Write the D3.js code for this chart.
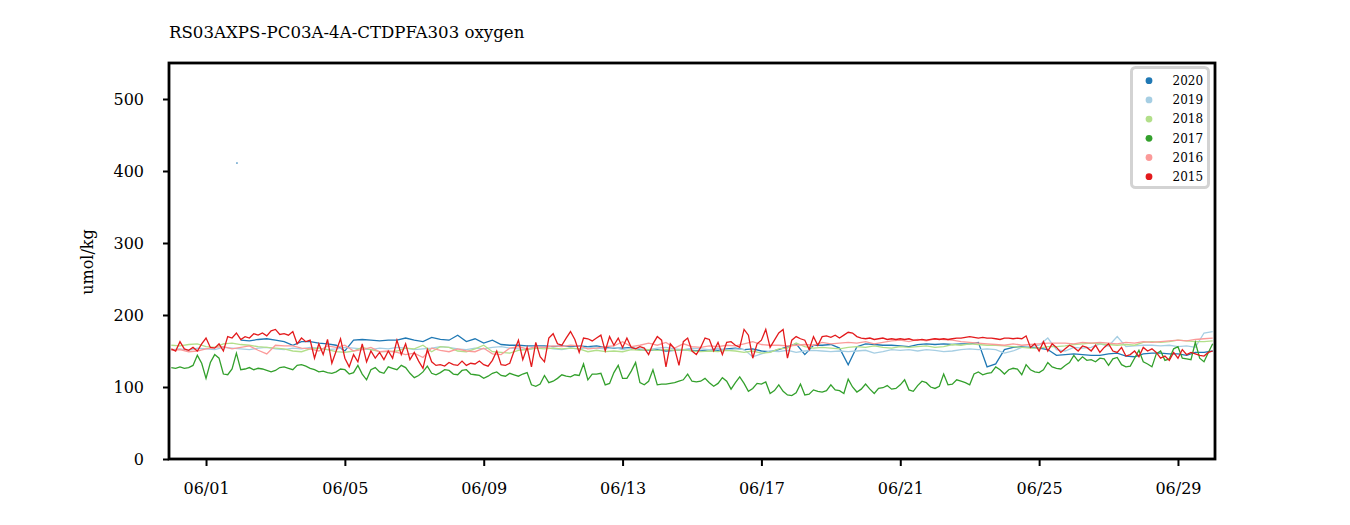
<!DOCTYPE html>
<html>
<head>
<meta charset="utf-8">
<script src="https://cdn.jsdelivr.net/npm/d3@7"></script>
<style>
body { margin: 0; background: #fff; }
text { font-family: "DejaVu Serif", serif; fill: #000; }
</style>
</head>
<body>
<div id="chart"></div>
<script>
var title = "RS03AXPS-PC03A-4A-CTDPFA303 oxygen";
var yLabel = "umol/kg";
var years = ["2020", "2019", "2018", "2017", "2016", "2015"];
var colors = ["#1f78b4", "#a6cee3", "#b2df8a", "#33a02c", "#fb9a99", "#e31a1c"];
var yTicks = [0, 100, 200, 300, 400, 500];
var xTicks = ["06/01", "06/05", "06/09", "06/13", "06/17", "06/21", "06/25", "06/29"];

// samples start 05/31 00:00, one value every `step` hours
var steps = [6, 6, 6, 3, 6, 3];

var o2020 = [null, null, null, null, null, null, null, null,
  165, 164, 166, 167, 165, 163, 158, 163, 163, 161, 160, 158, 150, 165, 166, 165, 164,
  165, 165, 168, 165, 163, 169, 166, 165, 172, 163, 167, 161, 165, 159, 158, 158, 157, 157, 157, 156, 157, 156, 157, 156,
  157, 155, 154, 154, 155, 152, 151, 152, 150, 151, 152, 151, 150, 152, 151, 153, 154, 152, 153, 150, 149, 152, 156, 160,
  145, 158, 158, 159, 154, 131, 156, 160, 159, 158, 158, 157, 156, 159, 160, 159, 160, 159, 160, 160, 162, 128, 132, 152,
  155, 156, 155, 154, 152, 144, 145, 146, 145, 144, 144, 146, 147, 143, 142, 146, 147, 147, 146, 146, 144, 148, 148, 150];
// lone reading near 06/01 (hours after start, value)
var o2020Spike = [[45.4, 411]];

var o2019 = [152, 153, 151, 154, 153, 152, 155, 154, 153, 152, 154, 155, 153, 152, 154, 153, 155, 154, 152, 153, 155, 154, 153, 152, 154,
  153, 155, 154, 152, 153, 154, 156, 155, 153, 152, 154, 153, 155, 156, 154, 153, 152, 154, 155, 153, 152, 154, 153, 155,
  154, 153, 155, 152, 154, 153, 152, 154, 155, 153, 152, 154, 153, 152, 154, 151, 153, 152, 142, 146, 150, 149, 151, 148,
  150, 151, 150, 149, 150, 149, 150, 151, 147, 149, 152, 151, 152, 150, 152, 151, 149, 150, 152, 153, 152, 153, 152, 147,
  150, 155, 156, 158, 168, 152, 150, 155, 154, 155, 160, 157, 170, 156, 157, 158, 158, 157, 158, 156, 157, 155, 175, 177];

var o2018 = [158, 157, 159, 160, 156, 155, 160, 161, 159, 158, 156, 155, 154, 153, 150, 149, 153, 154, 152, 149, 148, 150, 155, 152, 149,
  149, 150, 154, 153, 158, 149, 156, 155, 150, 149, 153, 158, 149, 148, 147, 151, 152, 154, 153, 154, 153, 154, 153, 149,
  151, 149, 150, 149, 152, 151, 152, 151, 152, 151, 152, 150, 149, 150, 149, 151, 150, 148, 150, 147, 148, 153, 154, 161,
  156, 154, 155, 154, 153, 155, 156, 155, 157, 155, 154, 156, 155, 156, 157, 155, 156, 159, 158, 160, 159, 158, 158, 157,
  156, 155, 154, 154, 156, 156, 157, 159, 160, 161, 160, 159, 158, 159, 158, 162, 163, 162, 163, 165, 164, 163, 163, 164];

var o2017 = [127, 126, 128, 126, 127, 130, 144, 133, 112, 134, 145, 140, 118, 117, 125, 147, 124, 125, 127, 124, 126, 125, 123, 121, 123,
  127, 128, 126, 124, 130, 131, 129, 126, 124, 121, 122, 120, 119, 121, 125, 124, 118, 120, 130, 118, 110, 124, 127, 121, 119,
  128, 126, 124, 130, 127, 119, 113, 116, 121, 129, 119, 117, 120, 124, 123, 118, 117, 123, 124, 118, 117, 116, 112, 115,
  119, 121, 116, 115, 119, 117, 115, 118, 120, 103, 101, 104, 116, 106, 108, 112, 117, 115, 114, 117, 116, 132, 110, 118,
  118, 119, 103, 105, 120, 130, 112, 112, 122, 134, 106, 103, 108, 124, 103, 104, 104, 105, 106, 108, 110, 118, 108, 107,
  108, 112, 106, 101, 105, 113, 108, 97, 106, 114, 105, 94, 98, 105, 104, 107, 91, 95, 103, 94, 89, 88, 92, 104, 89,
  90, 96, 94, 93, 95, 103, 96, 95, 91, 111, 100, 93, 97, 104, 97, 91, 98, 99, 102, 97, 98, 103, 110, 96,
  94, 102, 108, 106, 100, 98, 101, 118, 103, 104, 110, 108, 106, 103, 118, 121, 117, 119, 120, 128, 124, 118, 124, 126,
  125, 117, 131, 124, 121, 120, 124, 134, 128, 126, 125, 130, 134, 144, 136, 142, 137, 138, 135, 140, 139, 130, 139,
  141, 131, 128, 129, 140, 151, 135, 132, 128, 146, 150, 137, 139, 153, 156, 140, 139, 138, 162, 140, 135, 148, 160];

var o2016 = [151, 152, 149, 150, 153, 155, 156, 153, 155, 157, 151, 146, 158, 157, 157, 154, 153, 150, 157, 155, 158, 150, 152, 155, 149,
  150, 148, 145, 147, 141, 154, 151, 149, 153, 150, 149, 154, 146, 145, 154, 156, 153, 156, 155, 157, 156, 158, 157, 153,
  154, 156, 157, 163, 156, 158, 161, 158, 162, 154, 160, 156, 155, 157, 156, 158, 157, 160, 163, 159, 158, 158, 157, 158,
  159, 158, 162, 160, 161, 162, 161, 163, 160, 162, 164, 165, 163, 166, 164, 167, 166, 165, 163, 162, 161, 160, 159, 158,
  160, 158, 159, 160, 161, 161, 161, 160, 162, 161, 162, 161, 160, 162, 161, 163, 162, 163, 164, 165, 164, 166, 167, 168];

var o2015 = [153, 150, 163, 153, 151, 155, 150, 160, 168, 155, 154, 160, 150, 170, 168, 175, 166, 170, 168, 174, 172, 175, 171, 178, 180,
  173, 174, 172, 177, 160, 168, 163, 165, 140, 160, 145, 166, 133, 150, 167, 140, 128, 145, 135, 160, 135, 150, 140, 148, 138,
  150, 140, 165, 145, 160, 138, 148, 136, 126, 152, 135, 130, 131, 129, 134, 131, 130, 136, 130, 133, 132, 136, 131, 129,
  137, 150, 131, 130, 133, 150, 165, 138, 155, 128, 162, 142, 135, 168, 174, 160, 158, 168, 177, 166, 148, 168, 167, 164,
  168, 172, 150, 170, 158, 168, 155, 168, 155, 153, 156, 154, 145, 160, 170, 165, 128, 160, 153, 130, 163, 168, 150, 145,
  155, 168, 166, 150, 162, 145, 162, 163, 158, 155, 180, 172, 140, 160, 165, 180, 155, 165, 175, 180, 140, 165, 170, 167, 165,
  152, 170, 158, 170, 171, 169, 172, 168, 172, 176, 175, 170, 168, 167, 168, 166, 167, 168, 166, 167, 166, 167, 166, 167,
  165, 165, 166, 165, 166, 167, 166, 167, 166, 167, 168, 168, 169, 170, 169, 168, 169, 168, 168, 167, 166, 168, 168, 167,
  168, 167, 171, 155, 160, 150, 163, 150, 160, 155, 148, 153, 158, 155, 150, 157, 155, 150, 158, 148, 155, 160, 150,
  148, 155, 143, 145, 150, 142, 155, 150, 153, 148, 140, 143, 137, 148, 140, 152, 145, 148, 146, 144, 143, 148, 150];

var values = [o2020, o2019, o2018, o2017, o2016, o2015];

var hour = 3600e3;
var t0 = Date.UTC(2020, 4, 31);
var parseTick = d3.utcParse("%Y/%m/%d");

var svg = d3.select("#chart")
	.append("svg")
	.attr("width", 1350)
	.attr("height", 525)
	;

var x = d3.scaleUtc()
	.domain([new Date(t0 - 1.6 * hour), new Date(t0 + 721.6 * hour)])
	.range([169, 1215]);
var y = d3.scaleLinear()
	.domain([0, 550])
	.range([459, 63]);

svg.append("clipPath").attr("id", "plot")
	.append("rect")
	.attr("x", 169).attr("y", 63).attr("width", 1046).attr("height", 396);

var series = years.map(function(yr, k) {
	return {
		year: yr,
		color: colors[k],
		points: values[k].map(function(v, i) {
			return { t: new Date(t0 + i * steps[k] * hour), v: v };
		})
	};
});

var line = d3.line()
	.defined(function(d) { return d.v != null; })
	.x(function(d) { return x(d.t); })
	.y(function(d) { return y(d.v); });

var plot = svg.append("g").attr("clip-path", "url(#plot)");

plot.selectAll("path.series")
	.data(series)
	.enter().append("path")
	.attr("class", "series")
	.attr("fill", "none")
	.attr("stroke", function(d) { return d.color; })
	.attr("stroke-width", 1.3)
	.attr("stroke-linejoin", "miter")
	.attr("d", function(d) { return line(d.points); })
	;

plot.selectAll("circle.spike")
	.data(o2020Spike)
	.enter().append("circle")
	.attr("class", "spike")
	.attr("cx", function(d) { return x(new Date(t0 + d[0] * hour)); })
	.attr("cy", function(d) { return y(d[1]); })
	.attr("r", 0.8)
	.attr("fill", colors[0])
	;

// axes
var yAxis = svg.append("g")
	.attr("transform", "translate(169,0)")
	.call(d3.axisLeft(y).tickValues(yTicks).tickSize(6).tickPadding(19));

var xAxis = svg.append("g")
	.attr("transform", "translate(0,459)")
	.call(d3.axisBottom(x)
		.tickValues(xTicks.map(function(s) { return parseTick("2020/" + s); }))
		.tickFormat(d3.utcFormat("%m/%d"))
		.tickSize(7)
		.tickPadding(17));

[yAxis, xAxis].forEach(function(a) {
	a.select(".domain").remove();
	a.selectAll(".tick line").attr("stroke", "#000").attr("stroke-width", 2);
	a.selectAll(".tick text")
		.style("font-family", "'DejaVu Serif', serif")
		.style("font-size", "16px")
		.attr("fill", "#000");
});

svg.append("rect")
	.attr("x", 169).attr("y", 63)
	.attr("width", 1046).attr("height", 396)
	.attr("fill", "none")
	.attr("stroke", "#000")
	.attr("stroke-width", 2.8)
	;

svg.append("text")
	.attr("x", 169)
	.attr("y", 38)
	.style("font-size", "16.6px")
	.text(title);

svg.append("text")
	.attr("transform", "translate(93,262) rotate(-90)")
	.attr("text-anchor", "middle")
	.style("font-size", "16px")
	.text(yLabel);

// legend
var legend = svg.append("g");
legend.append("rect")
	.attr("x", 1131.5).attr("y", 67.5)
	.attr("width", 77).attr("height", 120)
	.attr("rx", 4)
	.attr("fill", "#fff")
	.attr("fill-opacity", 0.8)
	.attr("stroke", "#d3d3d3")
	.attr("stroke-width", 3)
	;
var item = legend.selectAll("g.item")
	.data(series)
	.enter().append("g")
	.attr("class", "item")
	.attr("transform", function(d, i) { return "translate(0," + (80.7 + i * 19.2) + ")"; })
	;
item.append("circle")
	.attr("cx", 1149)
	.attr("r", 3.4)
	.attr("fill", function(d) { return d.color; });
item.append("text")
	.attr("x", 1172.5)
	.attr("dy", "0.36em")
	.style("font-size", "12px")
	.text(function(d) { return d.year; });
</script>
</body>
</html>
